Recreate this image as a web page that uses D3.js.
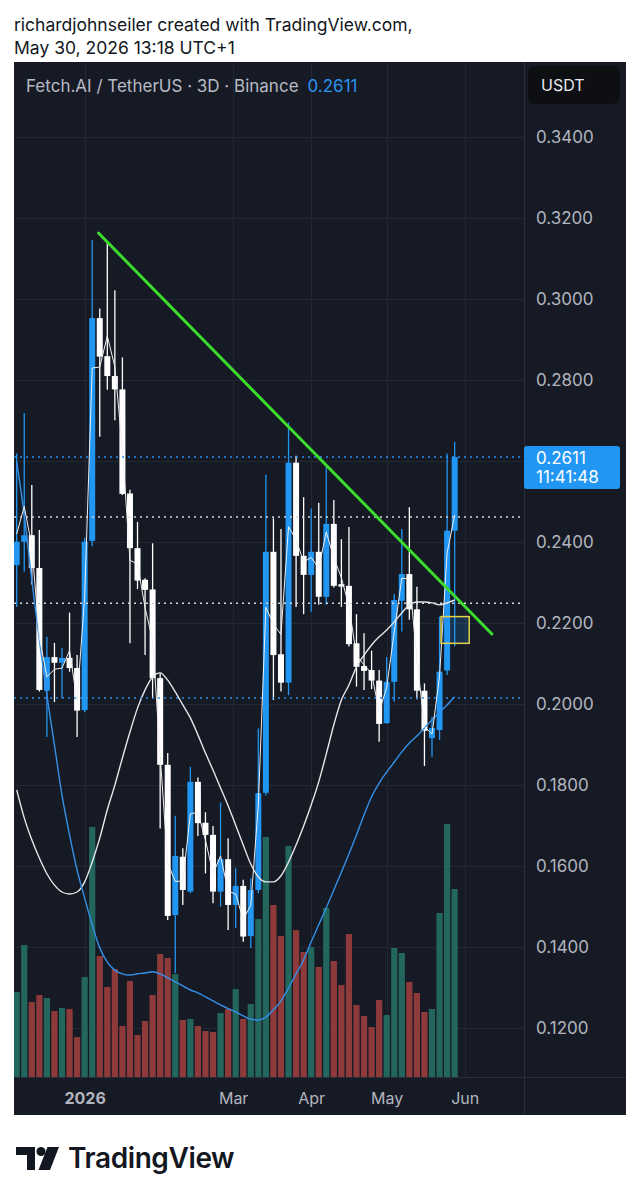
<!DOCTYPE html>
<html><head><meta charset="utf-8">
<script src="https://cdn.jsdelivr.net/npm/d3@7"></script>
<style>
html,body{margin:0;padding:0;background:#fff;}
svg{display:block;}
text{font-family:Inter,"Noto Sans",sans-serif;}
</style></head><body>
<svg id="c" width="640" height="1200"></svg>
<script>
// ---------- DATA ----------
const firstBar = "2025-12-05";       // first visible 3D candle
const barDays = 3;
const opens  = [0.2344,0.2402,0.2418,0.2337,0.2034,0.2117,0.2103,0.2115,0.2090,0.1986,
                0.2404,0.2954,0.2860,0.2811,0.2778,0.2521,0.2386,0.2308,0.2284,0.2065,
                0.1851,0.1480,0.1624,0.1538,0.1809,0.1708,0.1678,0.1538,0.1618,0.1505,
                0.1552,0.1428,0.1542,0.1782,0.2377,0.2124,0.2054,0.2597,0.2367,0.2320,
                0.2377,0.2266,0.2446,0.2297,0.2293,0.2151,0.2095,0.2085,0.2059,0.1954,
                0.2056,0.2256,0.2322,0.2235,0.2034,0.1917,0.1937,0.2084,0.2429];
const highs  = [0.2620,0.2720,0.2542,0.2431,0.2167,0.2152,0.2140,0.2227,0.2122,0.2412,
                0.3147,0.2978,0.3143,0.3023,0.2857,0.2530,0.2451,0.2312,0.2398,0.2077,
                0.1880,0.1725,0.1645,0.1846,0.1820,0.1734,0.1700,0.1758,0.1670,0.1596,
                0.1567,0.1571,0.1941,0.2567,0.2460,0.2433,0.2696,0.2614,0.2512,0.2484,
                0.2498,0.2587,0.2505,0.2408,0.2438,0.2223,0.2176,0.2133,0.2085,0.2117,
                0.2273,0.2433,0.2487,0.2291,0.2052,0.1969,0.2217,0.2620,0.2649];
const lows   = [0.2241,0.2328,0.2296,0.2032,0.1920,0.2006,0.2016,0.2081,0.1920,0.1981,
                0.2391,0.2661,0.2777,0.2702,0.2517,0.2151,0.2285,0.2122,0.2015,0.1694,
                0.1468,0.1337,0.1505,0.1534,0.1675,0.1583,0.1509,0.1501,0.1443,0.1448,
                0.1414,0.1398,0.1534,0.1775,0.2011,0.2032,0.2023,0.2241,0.2223,0.2229,
                0.2246,0.2246,0.2289,0.2241,0.2143,0.2044,0.2036,0.2038,0.1908,0.1952,
                0.2007,0.2180,0.2209,0.2013,0.1848,0.1871,0.1912,0.2073,0.2143];
const closes = [0.2402,0.2418,0.2337,0.2036,0.2117,0.2103,0.2115,0.2090,0.1985,0.2402,
                0.2954,0.2859,0.2811,0.2778,0.2520,0.2386,0.2306,0.2283,0.2065,0.1851,
                0.1478,0.1626,0.1542,0.1809,0.1707,0.1678,0.1538,0.1618,0.1505,0.1552,
                0.1427,0.1542,0.1781,0.2377,0.2122,0.2054,0.2597,0.2367,0.2320,0.2377,
                0.2266,0.2446,0.2293,0.2291,0.2149,0.2093,0.2083,0.2059,0.1952,0.2056,
                0.2258,0.2322,0.2235,0.2034,0.1935,0.1942,0.2081,0.2429,0.2611];
// volume (millions USDT, estimated)
const volumes = [8.5,13.2,7.5,8.2,7.9,6.6,6.9,6.8,4.0,10.0,
                 25.0,12.1,9.0,10.8,5.1,9.6,4.2,5.6,8.2,12.3,
                 11.9,10.3,5.7,5.8,5.1,4.6,4.5,6.4,6.8,8.8,
                 5.8,7.3,15.8,24.0,17.2,14.1,23.1,14.7,12.5,13.0,
                 11.0,16.9,11.6,9.2,14.3,7.2,6.1,5.0,7.7,6.2,
                 12.9,12.4,9.5,8.4,6.5,6.8,16.4,25.3,18.8];
// thin white line (follows typical price)
const thinLine = [0.2421,0.2489,0.2392,0.2166,0.2068,0.2087,0.2090,0.2133,0.2009,0.2265,
                  0.2831,0.2833,0.2910,0.2834,0.2631,0.2356,0.2347,0.2239,0.2159,0.1874,
                  0.1609,0.1563,0.1564,0.1730,0.1734,0.1665,0.1582,0.1626,0.1539,0.1532,
                  0.1469,0.1504,0.1752,0.2240,0.2198,0.2173,0.2439,0.2407,0.2352,0.2363,
                  0.2337,0.2426,0.2362,0.2313,0.2243,0.2120,0.2098,0.2077,0.1982,0.2042,
                  0.2179,0.2312,0.2310,0.2113,0.1945,0.1927,0.2070,0.2374,0.2468];
// smooth white curve
const smoothLine = [0.1789,0.1720,0.1666,0.1621,0.1582,0.1554,0.1537,0.1532,0.1537,0.1562,
                    0.1611,0.1670,0.1740,0.1801,0.1868,0.1932,0.1991,0.2036,0.2068,0.2078,
                    0.2060,0.2031,0.1999,0.1967,0.1925,0.1880,0.1838,0.1794,0.1750,0.1702,
                    0.1653,0.1606,0.1574,0.1562,0.1562,0.1577,0.1611,0.1653,0.1700,0.1752,
                    0.1809,0.1878,0.1950,0.2011,0.2048,0.2093,0.2122,0.2147,0.2167,0.2184,
                    0.2204,0.2226,0.2246,0.2253,0.2253,0.2251,0.2246,0.2251,0.2258];
// blue moving average
const blueLine = [0.2599,0.2468,0.2307,0.2159,0.2023,0.1900,0.1776,0.1678,0.1591,0.1522,
                  0.1456,0.1399,0.1364,0.1344,0.1335,0.1332,0.1335,0.1337,0.1340,0.1335,
                  0.1325,0.1315,0.1305,0.1295,0.1288,0.1278,0.1268,0.1258,0.1249,0.1241,
                  0.1231,0.1223,0.1221,0.1228,0.1246,0.1268,0.1300,0.1335,0.1369,0.1414,
                  0.1456,0.1498,0.1542,0.1586,0.1631,0.1678,0.1727,0.1772,0.1806,0.1833,
                  0.1858,0.1883,0.1905,0.1922,0.1942,0.1962,0.1981,0.1999,0.2019];
const priceTicks = [0.12,0.14,0.16,0.18,0.20,0.22,0.24,0.26,0.28,0.30,0.32,0.34];
const priceLabelsShown = [0.12,0.14,0.16,0.18,0.20,0.22,0.24,0.28,0.30,0.32,0.34];
const timeTicks  = ["2026-01-01","2026-03-01","2026-04-01","2026-05-01","2026-06-01"];
const timeLabels = ["2026","Mar","Apr","May","Jun"];
const hLinePrices = [0.2611,0.2463,0.2250,0.2016];
const hLineKinds  = ["blue","white","white","blue"];
const trendTimes  = ["2026-01-06T12:00:00Z","2026-06-11T19:00:00Z"];
const trendPrices = [0.3164,0.2174];
const boxTimes  = ["2026-05-22T14:00:00Z","2026-06-02T19:00:00Z"];
const boxPrices = [0.2151,0.2217];
const lastPrice = 0.2611;
const countdown = "11:41:48";
const symbolText = "Fetch.AI / TetherUS · 3D · Binance";
const titleLines = ["richardjohnseiler created with TradingView.com,","May 30, 2026 13:18 UTC+1"];

// ---------- SETUP ----------
const DAY = 864e5;
const t0 = new Date(firstBar + "T00:00:00Z");
const dates = opens.map((_, i) => d3.utcDay.offset(t0, i * barDays));
const bars = opens.map((o, i) => ({d: dates[i], o, h: highs[i], l: lows[i], c: closes[i], v: volumes[i]}));

const P = {l: 14, r: 524, t: 62, b: 1077, right: 626, bottom: 1115};
const x = d3.scaleUtc()
  .domain([new Date(+t0 - 1.07 * DAY), new Date(+t0 + 201.55 * DAY)])
  .range([P.l, P.r]);
const y = d3.scaleLinear().domain([0.10802, 0.35864]).range([P.b, P.t]);
const yv = d3.scaleLinear().domain([0, 40]).range([P.b, P.b - 400]);

const BG = "#161a25", GRID = "#232733", UP = "#2196f3", DOWN = "#ffffff", AXIS = "#b2b5be";

const svg = d3.select("#c");
svg.append("rect").attr("width", 640).attr("height", 1200).attr("fill", "#fff");

// titles
svg.selectAll("text.title").data(titleLines).join("text").attr("class", "title")
  .attr("x", 14).attr("y", (d, i) => 31 + i * 23)
  .attr("font-size", 17.5).attr("fill", "#131722").text(d => d);

// panel
svg.append("rect").attr("x", P.l).attr("y", P.t).attr("width", P.right - P.l).attr("height", P.bottom - P.t).attr("fill", BG);

svg.append("defs").append("clipPath").attr("id", "plot")
  .append("rect").attr("x", P.l).attr("y", P.t).attr("width", P.r - P.l).attr("height", P.b - P.t);

// grid
const grid = svg.append("g");
grid.selectAll("line.h").data(priceTicks).join("line").attr("class", "h")
  .attr("x1", P.l).attr("x2", P.r).attr("y1", d => Math.round(y(d)) + 0.5).attr("y2", d => Math.round(y(d)) + 0.5)
  .attr("stroke", GRID).attr("stroke-width", 1);
grid.selectAll("line.v").data(timeTicks).join("line").attr("class", "v")
  .attr("x1", d => Math.round(x(new Date(d + "T00:00:00Z"))) + 0.5).attr("x2", d => Math.round(x(new Date(d + "T00:00:00Z"))) + 0.5)
  .attr("y1", P.t).attr("y2", P.b).attr("stroke", GRID).attr("stroke-width", 1);

// separators
svg.append("line").attr("x1", P.r + 0.5).attr("x2", P.r + 0.5).attr("y1", P.t).attr("y2", P.bottom).attr("stroke", "#2a2e39");
svg.append("line").attr("x1", P.l).attr("x2", P.right).attr("y1", P.b + 0.5).attr("y2", P.b + 0.5).attr("stroke", "#2a2e39");

const plot = svg.append("g").attr("clip-path", "url(#plot)");

// volume
plot.append("g").selectAll("rect").data(bars).join("rect")
  .attr("x", d => x(d.d) - 3.1).attr("width", 6.2)
  .attr("y", d => yv(d.v)).attr("height", d => yv(0) - yv(d.v))
  .attr("fill", d => d.c >= d.o ? "#22665e" : "#8e3a3b");

// candles
const cg = plot.append("g");
cg.selectAll("line").data(bars).join("line")
  .attr("x1", d => x(d.d)).attr("x2", d => x(d.d))
  .attr("y1", d => y(d.h)).attr("y2", d => y(d.l))
  .attr("stroke", d => d.c >= d.o ? UP : DOWN).attr("stroke-width", 1.3);
cg.selectAll("rect").data(bars).join("rect")
  .attr("x", d => x(d.d) - 3).attr("width", 6)
  .attr("y", d => y(Math.max(d.o, d.c)))
  .attr("height", d => Math.max(1.2, Math.abs(y(d.o) - y(d.c))))
  .attr("fill", d => d.c >= d.o ? UP : DOWN);

// lines
const lineGen = (arr, curve) => d3.line().x((d, i) => x(dates[i])).y(d => y(d)).curve(curve)(arr);
plot.append("path").attr("d", lineGen(smoothLine, d3.curveMonotoneX)).attr("fill", "none")
  .attr("stroke", "#e6e6e6").attr("stroke-width", 1.4);
plot.append("path").attr("d", lineGen(blueLine, d3.curveMonotoneX)).attr("fill", "none")
  .attr("stroke", "#3590e8").attr("stroke-width", 1.4);
plot.append("path").attr("d", lineGen(thinLine, d3.curveLinear)).attr("fill", "none")
  .attr("stroke", "#f0f0f0").attr("stroke-width", 1);

// horizontal dotted lines
plot.selectAll("line.dot").data(hLinePrices).join("line").attr("class", "dot")
  .attr("x1", P.l).attr("x2", P.r).attr("y1", d => y(d)).attr("y2", d => y(d))
  .attr("stroke", (d, i) => hLineKinds[i] === "blue" ? "#2a8ff0" : "#d6d8de")
  .attr("stroke-width", 1.5).attr("stroke-dasharray", "2 4");

// rectangle drawing
plot.append("rect")
  .attr("x", x(new Date(boxTimes[0]))).attr("width", x(new Date(boxTimes[1])) - x(new Date(boxTimes[0])))
  .attr("y", y(boxPrices[1])).attr("height", y(boxPrices[0]) - y(boxPrices[1]))
  .attr("fill", "rgba(33,150,243,0.2)").attr("stroke", "#e3d24a").attr("stroke-width", 1.5);

// trend line
plot.append("line")
  .attr("x1", x(new Date(trendTimes[0]))).attr("y1", y(trendPrices[0]))
  .attr("x2", x(new Date(trendTimes[1]))).attr("y2", y(trendPrices[1]))
  .attr("stroke", "#3bdc2c").attr("stroke-width", 3).attr("stroke-linecap", "round");

// price axis
const ya = svg.append("g").attr("transform", `translate(${P.r},0)`)
  .call(d3.axisRight(y).tickValues(priceLabelsShown).tickFormat(d3.format(".4f")).tickSize(0).tickPadding(12));
ya.select(".domain").remove();
ya.selectAll("text").attr("font-size", 17).attr("fill", AXIS).attr("font-family", "Inter,sans-serif");

// last price label
const lp = svg.append("g");
lp.append("rect").attr("x", P.r).attr("y", y(lastPrice) - 11).attr("width", 96).attr("height", 43).attr("rx", 3).attr("fill", "#2196f3");
lp.append("text").attr("x", 536).attr("y", y(lastPrice) + 1).attr("dy", "0.35em").attr("font-size", 17).attr("fill", "#fff").text(d3.format(".4f")(lastPrice));
lp.append("text").attr("x", 536).attr("y", y(lastPrice) + 20).attr("dy", "0.35em").attr("font-size", 17).attr("fill", "#fff").text(countdown);

// time axis
const xa = svg.append("g").attr("transform", `translate(0,${P.b})`)
  .call(d3.axisBottom(x).tickValues(timeTicks.map(d => new Date(d + "T00:00:00Z"))).tickFormat((d, i) => timeLabels[i]).tickSize(0));
xa.select(".domain").remove();
xa.selectAll("text").attr("y", 21).attr("dy", "0.35em").attr("font-size", 16).attr("fill", AXIS)
  .attr("font-family", "Inter,sans-serif").attr("font-weight", (d, i) => i === 0 ? 700 : 400);

// header legend
const hd = svg.append("text").attr("x", 26).attr("y", 86).attr("dy", "0.35em").attr("font-size", 17);
hd.append("tspan").attr("fill", "#b8bbc4").text(symbolText);
hd.append("tspan").attr("fill", "#2a93ef").attr("dx", 9).text(d3.format(".4f")(lastPrice));

// currency button
svg.append("rect").attr("x", 528).attr("y", 66).attr("width", 92).attr("height", 38).attr("rx", 6).attr("fill", "#0e0f12");
svg.append("text").attr("x", 541).attr("y", 85).attr("dy", "0.35em").attr("font-size", 16).attr("fill", "#e6e8ee").text("USDT");

// footer logo
const lg = svg.append("g").attr("fill", "#131722");
lg.append("path").attr("d", "M16,1147 H35 V1170 H27 V1155 H16 Z");
lg.append("circle").attr("cx", 41).attr("cy", 1151.5).attr("r", 4.5);
lg.append("path").attr("d", "M47.5,1147 H59 L50,1170 H38.5 Z");
svg.append("text").attr("x", 68).attr("y", 1168).attr("font-size", 28).attr("font-weight", 600)
  .attr("letter-spacing", -0.4).attr("fill", "#131722").text("TradingView");
</script>
</body></html>
